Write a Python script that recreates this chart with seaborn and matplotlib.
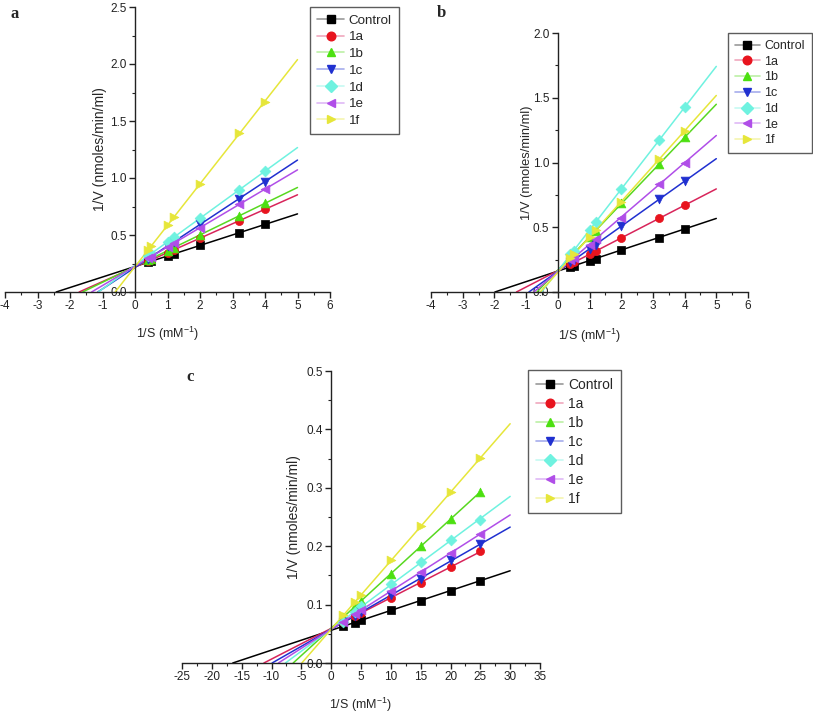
import numpy as np
import pandas as pd
import matplotlib
matplotlib.use("Agg")
import matplotlib.pyplot as plt
from matplotlib.lines import Line2D
from matplotlib.ticker import MultipleLocator
import seaborn as sns

# ---------------- data ----------------
SERIES = ["Control", "1a", "1b", "1c", "1d", "1e", "1f"]

A_X = [0.4, 0.5, 1, 1.2, 2, 3.2, 4]
A_CONTROL = [0.263, 0.269, 0.316, 0.333, 0.409, 0.518, 0.594]
A_1A = [0.269, 0.282, 0.345, 0.370, 0.472, 0.624, 0.726]
A_1B = [0.279, 0.293, 0.362, 0.390, 0.503, 0.664, 0.780]
A_1C = [0.290, 0.310, 0.400, 0.440, 0.600, 0.820, 0.965]
A_1D = [0.316, 0.337, 0.440, 0.481, 0.645, 0.896, 1.060]
A_1E = [0.294, 0.310, 0.395, 0.429, 0.563, 0.768, 0.902]
A_1F = [0.368, 0.402, 0.585, 0.655, 0.950, 1.398, 1.665]
A_LINE_END = [5, 5, 5, 5, 5, 5, 5]

B_X = [0.4, 0.5, 1, 1.2, 2, 3.2, 4]
B_CONTROL = [0.194, 0.201, 0.243, 0.258, 0.328, 0.418, 0.488]
B_1A = [0.215, 0.228, 0.292, 0.317, 0.415, 0.568, 0.671]
B_1B = [0.270, 0.300, 0.426, 0.470, 0.684, 0.986, 1.195]
B_1C = [0.230, 0.248, 0.335, 0.361, 0.508, 0.715, 0.857]
B_1D = [0.290, 0.317, 0.477, 0.542, 0.795, 1.174, 1.425]
B_1E = [0.244, 0.265, 0.366, 0.410, 0.575, 0.836, 0.996]
B_1F = [0.260, 0.290, 0.426, 0.477, 0.697, 1.027, 1.244]
B_LINE_END = [5, 5, 5, 5, 5, 5, 5]

C_X = [2, 4, 5, 10, 15, 20, 25]
C_CONTROL = [0.0634, 0.069, 0.073, 0.090, 0.107, 0.124, 0.141]
C_1A = [0.070, 0.080, 0.0856, 0.112, 0.1376, 0.164, 0.191]
C_1B = [0.078, 0.097, 0.106, 0.153, 0.200, 0.246, 0.293]
C_1C = [0.0696, 0.081, 0.087, 0.116, 0.144, 0.176, 0.203]
C_1D = [0.071, 0.088, 0.097, 0.135, 0.173, 0.211, 0.245]
C_1E = [0.071, 0.084, 0.090, 0.123, 0.156, 0.188, 0.221]
C_1F = [0.0816, 0.104, 0.116, 0.176, 0.234, 0.292, 0.351]
C_LINE_END = [30, 25, 25, 30, 30, 30, 30]

COLORS = ["#000000", "#E8141E", "#4CE010", "#2030D0", "#6FF2E0", "#B04EE8", "#E6E63A"]
LINE_COLORS = ["#000000", "#D8245A", "#58D820", "#2030D0", "#6FF2E0", "#B04EE8", "#E6E63A"]
MARKERS = ["s", "o", "^", "v", "D", "<", ">"]
MSIZES = [26, 34, 40, 40, 30, 40, 40]

sns.set_style("ticks")
plt.rcParams["font.family"] = ["Liberation Sans", "DejaVu Sans"]
plt.rcParams["mathtext.fontset"] = "custom"
plt.rcParams["mathtext.rm"] = "Liberation Sans"
plt.rcParams["mathtext.it"] = "Liberation Sans"

fig = plt.figure(figsize=(8.13, 7.14), dpi=100)
W, H = 813.0, 714.0


def make_panel(rect_px, xs, ys_list, line_end, xlim, ylim, xmaj, xmin, ymaj, ymin,
               ylab_x, xlab_y, ylab_fs, leg_px, leg_fs, leg_sp, yfmt):
    l, t, r, b = rect_px
    ax = fig.add_axes([l / W, 1 - b / H, (r - l) / W, (b - t) / H])
    rows = []
    for name, ys in zip(SERIES, ys_list):
        for x, y in zip(xs, ys):
            rows.append({"x": x, "y": y, "series": name})
    df = pd.DataFrame(rows)
    # fitted lines
    for i, (name, ys) in enumerate(zip(SERIES, ys_list)):
        m, c = np.polyfit(xs, ys, 1)
        x0 = -c / m
        x1 = line_end[i]
        ax.plot([x0, x1], [0, c + m * x1], color=LINE_COLORS[i], lw=1.1, zorder=2)
    for i, name in enumerate(SERIES):
        sub = df[df["series"] == name]
        sns.scatterplot(data=sub, x="x", y="y", ax=ax, color=COLORS[i],
                        marker=MARKERS[i], s=MSIZES[i], edgecolor=COLORS[i],
                        linewidth=0.5, zorder=3, legend=False)
    ax.set_xlim(*xlim)
    ax.set_ylim(*ylim)
    ax.spines["left"].set_position(("data", 0))
    ax.spines["bottom"].set_position(("data", 0))
    ax.spines["top"].set_visible(False)
    ax.spines["right"].set_visible(False)
    for s in ("left", "bottom"):
        ax.spines[s].set_linewidth(1.0)
        ax.spines[s].set_color("#222222")
    ax.xaxis.set_major_locator(MultipleLocator(xmaj))
    ax.xaxis.set_minor_locator(MultipleLocator(xmin))
    ax.yaxis.set_major_locator(MultipleLocator(ymaj))
    ax.yaxis.set_minor_locator(MultipleLocator(ymin))
    ax.yaxis.set_major_formatter(plt.FormatStrFormatter(yfmt))
    ax.xaxis.set_major_formatter(plt.FormatStrFormatter("%g"))
    ax.tick_params(which="major", direction="out", length=4, width=1.0,
                   labelsize=8.5, colors="#222222", pad=2)
    ax.tick_params(which="minor", direction="out", length=2.5, width=0.8, colors="#222222")
    ax.set_xlabel("1/S (mM$^{-1}$)", fontsize=9)
    ax.set_ylabel("1/V (nmoles/min/ml)", fontsize=ylab_fs)
    ax.yaxis.set_label_coords(ylab_x, 0.5)
    ax.xaxis.set_label_coords(0.5, xlab_y)
    ax.patch.set_alpha(0)
    handles = []
    for i, name in enumerate(SERIES):
        ln = Line2D([0], [0], color=LINE_COLORS[i], alpha=0.4, lw=1.2)
        mk = Line2D([0], [0], linestyle="none", marker=MARKERS[i], markersize=6.2,
                    markerfacecolor=COLORS[i], markeredgecolor=COLORS[i])
        handles.append((ln, mk))
    lx, ly = leg_px
    leg = ax.legend(handles=handles, labels=SERIES, loc="upper left",
                    bbox_to_anchor=(lx / W, 1 - ly / H), bbox_transform=fig.transFigure,
                    fontsize=leg_fs, frameon=True, fancybox=False, handlelength=2.0,
                    handletextpad=0.35, borderpad=0.55, labelspacing=leg_sp,
                    borderaxespad=0)
    leg.get_frame().set_edgecolor("#333333")
    leg.get_frame().set_linewidth(1.0)
    return ax


make_panel((5, 7, 330, 292), A_X,
           [A_CONTROL, A_1A, A_1B, A_1C, A_1D, A_1E, A_1F], A_LINE_END,
           (-4, 6), (0, 2.5), 1, 0.5, 0.5, 0.25, 0.314, -0.116, 10, (310, 7), 9.6, 0.33, "%.1f")
make_panel((431, 33, 748, 292), B_X,
           [B_CONTROL, B_1A, B_1B, B_1C, B_1D, B_1E, B_1F], B_LINE_END,
           (-4, 6), (0, 2.0), 1, 0.5, 0.5, 0.25, 0.322, -0.135, 9.3, (728, 33), 9.0, 0.3, "%.1f")
make_panel((182, 371, 540, 663), C_X,
           [C_CONTROL, C_1A, C_1B, C_1C, C_1D, C_1E, C_1F], C_LINE_END,
           (-25, 35), (0, 0.5), 5, 2.5, 0.1, 0.05, 0.332, -0.112, 10, (528, 370), 10.0, 0.36, "%.1f")

for lab, (px, py) in zip(["a", "b", "c"], [(15, 14), (441, 13), (190, 377)]):
    fig.text(px / W, 1 - py / H, lab, fontsize=12, fontweight="bold",
             family=["Liberation Serif", "DejaVu Serif"], ha="center", va="center")

fig.savefig("out.png", dpi=100)
